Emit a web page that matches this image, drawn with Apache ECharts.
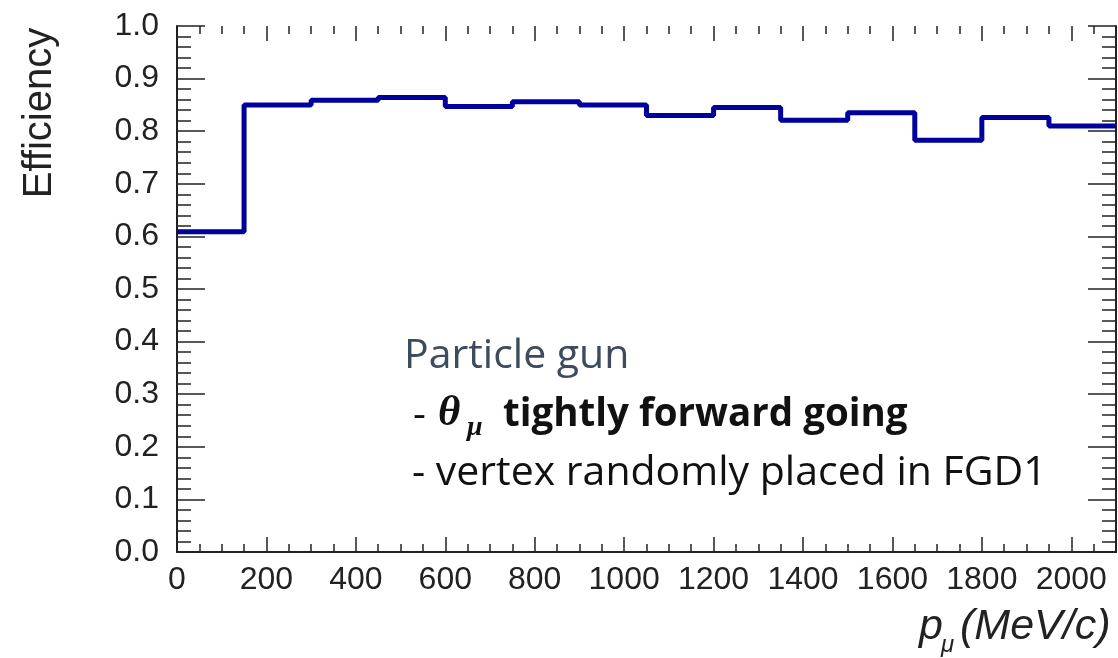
<!DOCTYPE html>
<html>
<head>
<meta charset="utf-8">
<script src="https://cdn.jsdelivr.net/npm/echarts@6/dist/echarts.min.js"></script>
<style>
html,body{margin:0;padding:0;background:#fff;}
#chart{width:1118px;height:658px;}
</style>
</head>
<body>
<div id="chart"></div>
<script>
// Bin edges of the histogram (MeV/c)
const binEdges = [0, 150, 300, 450, 600, 750, 900, 1050, 1200, 1350, 1500, 1650, 1800, 1950, 2100];
// Efficiency per bin
const efficiency = [0.609, 0.850, 0.859, 0.864, 0.847, 0.856, 0.850, 0.830, 0.845, 0.821, 0.835, 0.783, 0.826, 0.810];
const yTitle = 'Efficiency';
const xTitleParts = ['p', 'μ', '(MeV/c)'];
const annotation = ['Particle gun', 'tightly forward going', '- vertex randomly placed in FGD1'];

// step-line points: each bin's left edge with its value, plus closing right edge
const stepData = efficiency.map((v, i) => [binEdges[i], v]);
stepData.push([binEdges[binEdges.length - 1], efficiency[efficiency.length - 1]]);

const axisColor = '#222';
const tickFont = {fontFamily: 'Liberation Sans', fontSize: 32, color: '#222'};

function xAx(pos, interval, len, labels) {
  return {
    type: 'value', position: pos, min: 0, max: 2100, interval: interval,
    axisLine: {show: labels, onZero: false, lineStyle: {color: axisColor, width: 2}},
    axisTick: {show: true, inside: true, length: len, lineStyle: {color: axisColor, width: 1.5}},
    axisLabel: labels ? Object.assign({show: true, margin: 12, showMaxLabel: false, formatter: v => String(v)}, tickFont) : {show: false},
    splitLine: {show: false}
  };
}
function yAx(pos, labels) {
  return {
    type: 'value', position: pos, min: 0, max: 1, interval: 0.1,
    axisLine: {show: true, onZero: false, lineStyle: {color: axisColor, width: 2}},
    axisTick: {show: true, inside: true, length: 28, lineStyle: {color: axisColor, width: 1.5}},
    minorTick: {show: true, splitNumber: 5, length: 14, lineStyle: {color: axisColor, width: 1.5}},
    axisLabel: labels ? Object.assign({show: true, margin: 18, formatter: v => v.toFixed(1)}, tickFont) : {show: false},
    splitLine: {show: false}
  };
}

const chart = echarts.init(document.getElementById('chart'));
chart.setOption({
  animation: false,
  backgroundColor: '#fff',
  grid: {left: 177, right: 2, top: 26, bottom: 106, containLabel: false},
  xAxis: [
    xAx('bottom', 200, 15, true),
    xAx('bottom', 50, 8, false),
    xAx('top', 200, 15, false),
    xAx('top', 50, 8, false)
  ],
  yAxis: [yAx('left', true), yAx('right', false)],
  series: [{
    type: 'line', xAxisIndex: 0, yAxisIndex: 0,
    step: 'end', data: stepData, showSymbol: false, symbol: 'none',
    lineStyle: {color: '#00009c', width: 5}, z: 3
  }],
  graphic: [
    {type: 'text', x: 40, y: 113, rotation: Math.PI / 2,
     style: {text: yTitle, font: '40px "Liberation Sans"', fill: '#222', align: 'center', verticalAlign: 'middle'}},
    {type: 'text', x: 919, y: 627,
     style: {text: xTitleParts[0], font: 'italic 43px "Liberation Sans"', fill: '#222', align: 'left', verticalAlign: 'middle'}},
    {type: 'text', x: 941, y: 645,
     style: {text: xTitleParts[1], font: 'italic 24px "Liberation Sans"', fill: '#222', align: 'left', verticalAlign: 'middle'}},
    {type: 'text', x: 960, y: 627,
     style: {text: xTitleParts[2], font: 'italic 43px "Liberation Sans"', fill: '#222', align: 'left', verticalAlign: 'middle'}},
    {type: 'text', x: 404, y: 356,
     style: {text: annotation[0], font: '41px "Open Sans"', fill: '#3d4b5c', align: 'left', verticalAlign: 'middle'}},
    {type: 'text', x: 413, y: 415.5,
     style: {text: '-', font: '40px "Open Sans"', fill: '#111', align: 'left', verticalAlign: 'middle'}},
    {type: 'text', x: 438, y: 414,
     style: {text: 'θ', font: 'bold italic 43px "Liberation Serif"', fill: '#111', align: 'left', verticalAlign: 'middle'}},
    {type: 'text', x: 467, y: 428,
     style: {text: 'μ', font: 'bold italic 28px "Liberation Serif"', fill: '#111', align: 'left', verticalAlign: 'middle'}},
    {type: 'text', x: 503, y: 415.5,
     style: {text: annotation[1], font: 'bold 38.5px "Open Sans"', fill: '#111', align: 'left', verticalAlign: 'middle'}},
    {type: 'text', x: 412, y: 473,
     style: {text: annotation[2], font: '41px "Open Sans"', fill: '#111', align: 'left', verticalAlign: 'middle'}}
  ]
});
</script>
</body>
</html>
